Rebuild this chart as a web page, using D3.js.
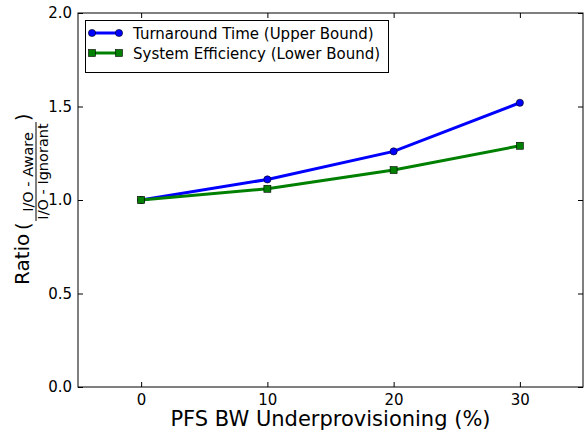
<!DOCTYPE html>
<html>
<head>
<meta charset="utf-8">
<script src="https://cdn.jsdelivr.net/npm/d3@7"></script>
<style>
    body { margin: 0; background: #fff; }
    svg { display: block; font-family: "DejaVu Sans", sans-serif; }
</style>
</head>
<body>
<div id="chart"></div>
<script>
// values
var underprov = [0, 10, 20, 30];
var turnaround = [1.0, 1.11, 1.26, 1.52];
var efficiency = [1.0, 1.06, 1.16, 1.29];
var xTicks = [0, 10, 20, 30];
var yTicks = [0.0, 0.5, 1.0, 1.5, 2.0];
var seriesNames = ["Turnaround Time (Upper Bound)", "System Efficiency (Lower Bound)"];
var seriesColors = ["#0000ff", "#008000"];

var width = 584;
var height = 431;
// plot box edges (note: "top" is taken by window.top)
var plotLeft = 78, plotRight = 583, plotTop = 13, plotBottom = 387;

var svg = d3.select("#chart")
    .append("svg")
    .attr("width", width)
    .attr("height", height);

var xScale = d3.scaleLinear().domain([-5, 35]).range([plotLeft, plotRight]);
var yScale = d3.scaleLinear().domain([0, 2]).range([plotBottom, plotTop]);

// axes, ticks pointing inward like old matplotlib
svg.append("g")
    .attr("transform", `translate(0, ${plotBottom})`)
    .call(d3.axisBottom(xScale).tickValues(xTicks).tickFormat(d3.format("d"))
        .tickSize(-5).tickPadding(7));

svg.append("g")
    .attr("transform", `translate(${plotLeft}, 0)`)
    .call(d3.axisLeft(yScale).tickValues(yTicks).tickFormat(d3.format(".1f"))
        .tickSize(-5).tickPadding(6));

svg.append("g")
    .attr("transform", `translate(0, ${plotTop})`)
    .call(d3.axisTop(xScale).tickValues(xTicks).tickFormat("").tickSize(-5));

svg.append("g")
    .attr("transform", `translate(${plotRight}, 0)`)
    .call(d3.axisRight(yScale).tickValues(yTicks).tickFormat("").tickSize(-5));

svg.selectAll(".domain").remove();
svg.selectAll(".tick line").attr("stroke", "#000").attr("stroke-width", 1);
svg.selectAll(".tick text")
    .style("font-size", "15px")
    .style("font-family", "DejaVu Sans")
    .attr("fill", "#000");

svg.append("rect")
    .attr("x", plotLeft)
    .attr("y", plotTop)
    .attr("width", plotRight - plotLeft)
    .attr("height", plotBottom - plotTop)
    .attr("fill", "none")
    .attr("stroke", "#000")
    .attr("stroke-width", 1);

// x axis label
svg.append("text")
    .attr("x", (plotLeft + plotRight) / 2)
    .attr("y", 426)
    .attr("text-anchor", "middle")
    .style("font-size", "21px")
    .text("PFS BW Underprovisioning (%)");

// y axis label: Ratio ( I/O-Aware / I/O-Ignorant )
var yLabel = svg.append("g")
    .attr("transform", "translate(29, 200) rotate(-90)");

yLabel.append("text")
    .attr("x", -85)
    .attr("y", 0)
    .style("font-size", "20px")
    .text("Ratio");

yLabel.append("text")
    .attr("x", -30)
    .attr("y", 1)
    .style("font-size", "19px")
    .text("(");

yLabel.append("line")
    .attr("x1", -21)
    .attr("x2", 78)
    .attr("y1", 7)
    .attr("y2", 7)
    .attr("stroke", "#000")
    .attr("stroke-width", 1);

yLabel.append("text")
    .attr("x", 28)
    .attr("y", 3.5)
    .attr("text-anchor", "middle")
    .style("font-size", "14.5px")
    .text("I/O - Aware");

yLabel.append("text")
    .attr("x", 28.5)
    .attr("y", 18.5)
    .attr("text-anchor", "middle")
    .style("font-size", "14.5px")
    .text("I/O - Ignorant");

yLabel.append("text")
    .attr("x", 79)
    .attr("y", 1)
    .style("font-size", "19px")
    .text(")");

// lines
var series = [turnaround, efficiency];
var line = d3.line()
    .x(function (d, i) { return xScale(underprov[i]); })
    .y(function (d) { return yScale(d); });

// blue first, green on top, as in the reference at the shared start
[0, 1].forEach(function (s) {
    svg.append("path")
        .datum(series[s])
        .attr("d", line)
        .attr("fill", "none")
        .attr("stroke", seriesColors[s])
        .attr("stroke-width", 3);
});

svg.selectAll(".pt-circle")
    .data(turnaround)
    .enter()
    .append("circle")
    .attr("class", "pt-circle")
    .attr("cx", function (d, i) { return xScale(underprov[i]); })
    .attr("cy", function (d) { return yScale(d); })
    .attr("r", 3.6)
    .attr("fill", seriesColors[0])
    .attr("stroke", "#000")
    .attr("stroke-width", 0.6);

var sq = 7;
svg.selectAll(".pt-square")
    .data(efficiency)
    .enter()
    .append("rect")
    .attr("class", "pt-square")
    .attr("x", function (d, i) { return xScale(underprov[i]) - sq / 2; })
    .attr("y", function (d) { return yScale(d) - sq / 2; })
    .attr("width", sq)
    .attr("height", sq)
    .attr("fill", seriesColors[1])
    .attr("stroke", "#000")
    .attr("stroke-width", 0.6);

// legend
var legend = svg.append("g");
legend.append("rect")
    .attr("x", 85.5)
    .attr("y", 20.5)
    .attr("width", 303)
    .attr("height", 52)
    .attr("fill", "#fff")
    .attr("stroke", "#000")
    .attr("stroke-width", 1);

seriesNames.forEach(function (name, i) {
    var cy = 33 + i * 20;
    legend.append("line")
        .attr("x1", 92).attr("x2", 119)
        .attr("y1", cy).attr("y2", cy)
        .attr("stroke", seriesColors[i])
        .attr("stroke-width", 3);
    [92, 119].forEach(function (mx) {
        if (i === 0) {
            legend.append("circle")
                .attr("cx", mx).attr("cy", cy).attr("r", 3.6)
                .attr("fill", seriesColors[i])
                .attr("stroke", "#000").attr("stroke-width", 0.6);
        } else {
            legend.append("rect")
                .attr("x", mx - sq / 2).attr("y", cy - sq / 2)
                .attr("width", sq).attr("height", sq)
                .attr("fill", seriesColors[i])
                .attr("stroke", "#000").attr("stroke-width", 0.6);
        }
    });
    legend.append("text")
        .attr("x", 133)
        .attr("y", cy + 5.5)
        .style("font-size", "15px")
        .text(name);
});
</script>
</body>
</html>
